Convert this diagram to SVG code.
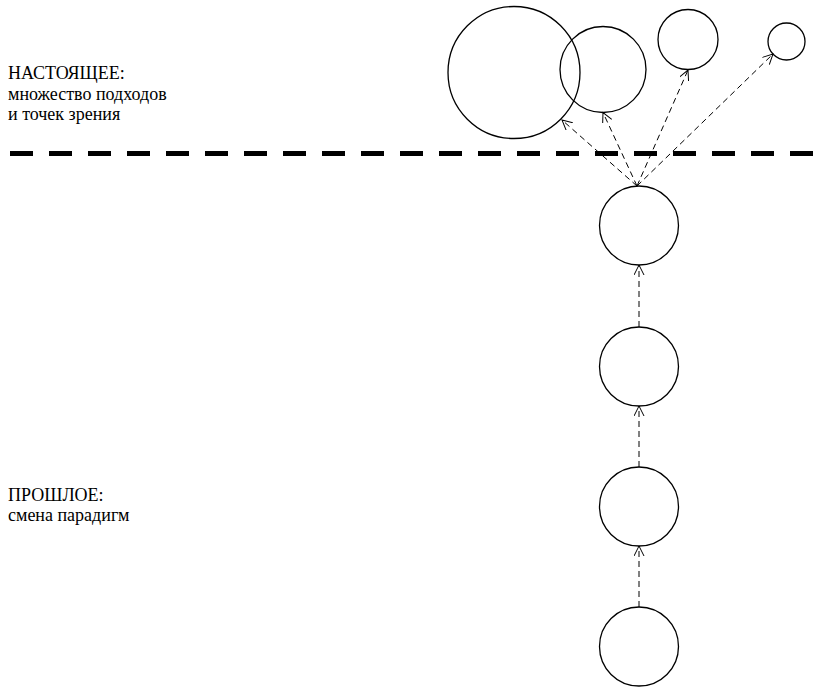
<svg xmlns="http://www.w3.org/2000/svg" width="822" height="687" viewBox="0 0 822 687">
<defs>
<style>
.n{fill:none;stroke:#000;stroke-width:1.3}
.c{fill:none;stroke:#000;stroke-width:1;stroke-dasharray:6 4}
</style>
<marker id="ah" markerWidth="12" markerHeight="12" refX="10" refY="5" orient="auto" markerUnits="userSpaceOnUse">
<path d="M0,0 L10,5 L0,10" fill="none" stroke="#000" stroke-width="1"/>
</marker>
</defs>
<rect width="822" height="687" fill="#fff"/>
<line x1="10" y1="153.5" x2="822" y2="153.5" stroke="#000" stroke-width="5" stroke-dasharray="23 16"/>
<g id="label-present">
<text x="8" y="79" font-family="Liberation Serif" font-size="18">НАСТОЯЩЕЕ:</text>
<text x="8" y="100" font-family="Liberation Serif" font-size="18">множество подходов</text>
<text x="8" y="120" font-family="Liberation Serif" font-size="18">и точек зрения</text>
</g>
<g id="label-past">
<text x="8" y="501" font-family="Liberation Serif" font-size="18">ПРОШЛОЕ:</text>
<text x="8" y="521" font-family="Liberation Serif" font-size="18">смена парадигм</text>
</g>
<g id="p1"><circle class="n" cx="514" cy="72.5" r="66"/></g>
<g id="p2"><circle class="n" cx="603" cy="69.5" r="43"/></g>
<g id="p3"><circle class="n" cx="688" cy="39.5" r="30"/></g>
<g id="p4"><circle class="n" cx="786.5" cy="41.5" r="18.5"/></g>
<g id="h1"><circle class="n" cx="639" cy="225.5" r="39.5"/></g>
<g id="h2"><circle class="n" cx="639" cy="366.5" r="39.5"/></g>
<g id="h3"><circle class="n" cx="639" cy="506.5" r="39.5"/></g>
<g id="h4"><circle class="n" cx="639" cy="646.5" r="39.5"/></g>
<g id="connectors">
<line class="c" x1="639" y1="607" x2="639" y2="546" marker-end="url(#ah)"/>
<line class="c" x1="639" y1="467" x2="639" y2="406" marker-end="url(#ah)"/>
<line class="c" x1="639" y1="327" x2="639" y2="265" marker-end="url(#ah)"/>
<line class="c" x1="637" y1="186" x2="562" y2="120" marker-end="url(#ah)"/>
<line class="c" x1="637" y1="186" x2="603" y2="112.5" marker-end="url(#ah)"/>
<line class="c" x1="637" y1="186" x2="688" y2="70" marker-end="url(#ah)"/>
<line class="c" x1="637" y1="186" x2="773" y2="54" marker-end="url(#ah)"/>
</g>
</svg>
